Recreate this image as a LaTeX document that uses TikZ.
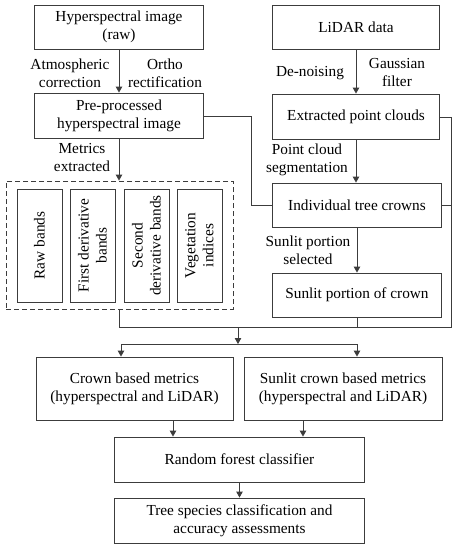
\documentclass[tikz,border=0pt]{standalone}
\usepackage{fontspec}
\setmainfont{Liberation Serif}
\usetikzlibrary{arrows.meta,calc}
\begin{document}
\begin{tikzpicture}[x=1pt,y=-1pt,
  line width=0.9pt,
  every node/.style={font=\fontsize{15.3}{18}\selectfont, text=black},
  box/.style={draw=ln, rectangle, inner sep=0pt, align=center, line width=0.9pt},
  vbox/.style={box, rotate=90, minimum width=113pt, minimum height=45pt},
  lbl/.style={align=center, inner sep=0pt},
  conn/.style={draw=ln, line width=0.9pt},
  arr/.style={conn, -{Triangle[length=6pt,width=6.5pt]}}
]
\definecolor{ln}{HTML}{3C3C3C}
\useasboundingbox (0,0) rectangle (458,550);
\fill[white] (0,0) rectangle (458,550);

\node[box, minimum width=169pt, minimum height=44pt] (hraw) at (119,27) {Hyperspectral image\\(raw)};
\node[box, minimum width=167pt, minimum height=44pt] (lidar) at (356,27) {LiDAR data};
\node[box, minimum width=169pt, minimum height=45pt] (pre) at (119,115.5) {Pre-processed\\hyperspectral image};
\node[box, minimum width=167pt, minimum height=45pt] (epc) at (356,116.5) {Extracted point clouds};
\node[box, dashed, dash pattern=on 5pt off 3pt, minimum width=227pt, minimum height=128pt] (dbox) at (119.5,245) {};
\node[vbox] (rawb) at (39.5,245.5) {Raw bands};
\node[vbox] (first) at (92.5,245.5) {First derivative\\bands};
\node[vbox] (second) at (146.5,245.5) {Second\\derivative bands};
\node[vbox] (veg) at (199.5,245.5) {Vegetation\\indices};
\node[box, minimum width=169pt, minimum height=44pt] (itc) at (357,205) {Individual tree crowns};
\node[box, minimum width=169pt, minimum height=44pt] (slp) at (357,295) {Sunlit portion of crown};
\node[box, minimum width=197pt, minimum height=63pt] (cbm) at (134.5,388.5) {Crown based metrics\\(hyperspectral and LiDAR)};
\node[box, minimum width=198pt, minimum height=63pt] (scbm) at (343,388.5) {Sunlit crown based metrics\\(hyperspectral and LiDAR)};
\node[box, minimum width=250pt, minimum height=45pt] (rf) at (239.5,459.5) {Random forest classifier};
\node[box, minimum width=250pt, minimum height=45pt] (ts) at (239.5,520.5) {Tree species classification and\\accuracy assessments};

\node[lbl] (l1) at (70,73) {Atmospheric\\correction};
\node[lbl] (l2) at (165,73) {Ortho\\rectification};
\node[lbl] (l3) at (310,73) {De-noising};
\node[lbl] (l4) at (397,73) {Gaussian\\filter};
\node[lbl] (l5) at (82,158) {Metrics\\extracted};
\node[lbl] (l6) at (307,160) {Point cloud\\segmentation};
\node[lbl] (l7) at (308,250) {Sunlit portion\\selected};

\coordinate (c1) at (251,116);
\coordinate (c2) at (251,205);
\coordinate (r1) at (451,117);
\coordinate (r2) at (451,205);
\coordinate (j1) at (238,327);
\coordinate (j2) at (238,344);
\coordinate (bl) at (119,327);
\coordinate (br) at (451,327);
\coordinate (sl) at (121,344);
\coordinate (sr) at (357,344);

\draw[arr] (hraw.south) -- (pre.north);
\draw[arr] (lidar.south) -- (epc.north);
\draw[arr] (pre.south) -- (pre.south |- dbox.north);
\draw[arr] (epc.south) -- (epc.south |- itc.north);
\draw[arr] (itc.south) -- (slp.north);

\draw[conn] (pre.east |- c1) -- (c1) -- (c2) -- (itc.west);
\draw[conn] (epc.east |- r1) -- (r1) -- (br) -- (bl) -- (bl |- dbox.south);
\draw[conn] (itc.east) -- (r2);
\draw[conn] (slp.south) -- (slp.south |- br);
\draw[arr] (j1) -- (j2);
\draw[conn] (sl) -- (sr);
\draw[arr] (sl) -- (sl |- cbm.north);
\draw[arr] (sr) -- (sr |- scbm.north);
\draw[arr] ($(cbm.south)+(38.5,0)$) -- ($(rf.north)+(-66.5,0)$);
\draw[arr] ($(scbm.south)+(-40,0)$) -- ($(rf.north)+(63.5,0)$);
\draw[arr] (rf.south) -- (ts.north);
\end{tikzpicture}
\end{document}
